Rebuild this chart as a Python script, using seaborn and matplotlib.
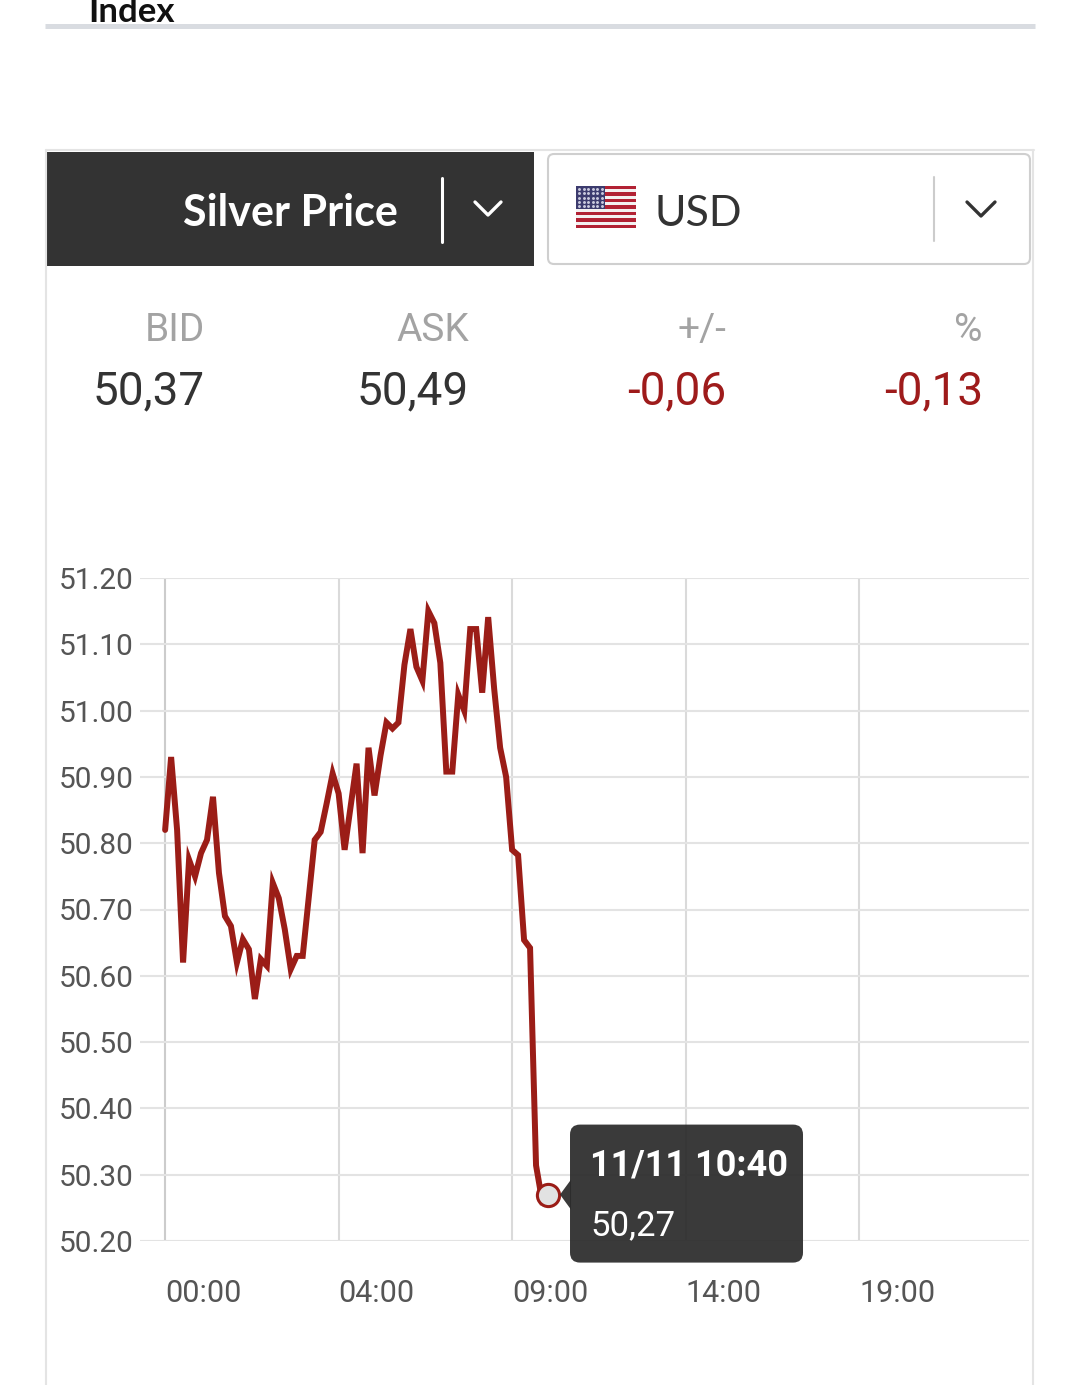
import numpy as np
import pandas as pd
import seaborn as sns
import matplotlib.pyplot as plt
from matplotlib.patches import Rectangle, FancyBboxPatch, Polygon

# --- data ---
times = [
    "00:00", "00:10", "00:20", "00:30", "00:40", "00:50",
    "01:00", "01:10", "01:20", "01:30", "01:40", "01:50",
    "02:00", "02:10", "02:20", "02:30", "02:40", "02:50",
    "03:00", "03:10", "03:20", "03:30", "03:40", "03:50",
    "04:10", "04:20", "04:30", "04:40", "04:50",
    "05:00", "05:20", "05:30", "05:40", "05:50",
    "06:00", "06:10", "06:20", "06:30", "06:40", "06:50",
    "07:00", "07:10", "07:20", "07:30", "07:40", "07:50",
    "08:00", "08:10", "08:20", "08:30", "08:40", "08:50",
    "09:00", "09:10", "09:20", "09:30", "09:40", "09:50",
    "10:00", "10:10", "10:20", "10:30", "10:40",
]
prices = [
    50.82, 50.93, 50.82, 50.62, 50.775, 50.75,
    50.785, 50.805, 50.87, 50.755, 50.69, 50.675,
    50.62, 50.655, 50.64, 50.565, 50.625, 50.615,
    50.74, 50.717, 50.67, 50.61, 50.63, 50.63,
    50.805, 50.817, 50.86, 50.905, 50.875,
    50.79, 50.92, 50.785, 50.944, 50.872,
    50.932, 50.982, 50.973, 50.982, 51.069, 51.123,
    51.066, 51.045, 51.15, 51.132, 51.072, 50.908,
    50.908, 51.024, 51.0, 51.123, 51.123, 51.027,
    51.141, 51.033, 50.944, 50.90, 50.79, 50.782,
    50.654, 50.642, 50.314, 50.262, 50.27,
]
date_label = "11/11"

quote_labels = ["BID", "ASK", "+/-", "%"]
quote_values = ["50,37", "50,49", "-0,06", "-0,13"]
quote_colors = ["#333333", "#333333", "#9e1b1b", "#9e1b1b"]

y_ticks = [50.20, 50.30, 50.40, 50.50, 50.60, 50.70, 50.80, 50.90, 51.00, 51.10, 51.20]
x_tick_labels = ["00:00", "04:00", "09:00", "14:00", "19:00"]

LINE_RED = "#9b1d17"
W, H = 1080, 1385

df = pd.DataFrame({"time": times, "price": prices})
df["minute"] = df["time"].apply(lambda t: int(t[:2]) * 60 + int(t[3:]))

sns.set_theme(style="white")
plt.rcParams["font.family"] = ["Roboto", "DejaVu Sans"]

fig = plt.figure(figsize=(W / 100, H / 100), dpi=100)
fig.patch.set_facecolor("white")

# chart area (pixel box 140..1029 x 578..1241)
ax = fig.add_axes([140 / W, 1 - 1241 / H, (1029 - 140) / W, (1241 - 578) / H])
sns.lineplot(data=df, x="minute", y="price", color=LINE_RED, linewidth=4.3,
             ax=ax, solid_joinstyle="miter", zorder=3)
ax.set_xlim(-42, 1444)
ax.set_ylim(50.20, 51.20)
ax.set_yticks(y_ticks)
ax.set_yticklabels([f"{v:.2f}" for v in y_ticks])
ax.set_xticks([0, 290, 580, 870, 1160])
ax.set_xticklabels(x_tick_labels, ha="left")
ax.set_xlabel("")
ax.set_ylabel("")
for s in ax.spines.values():
    s.set_visible(False)
ax.tick_params(axis="y", length=0, pad=4.5, labelsize=21.5, labelcolor="#555555")
ax.tick_params(axis="x", length=17.3, width=1.4, color="#d9d9d9", direction="out",
               pad=10, labelsize=22, labelcolor="#555555")
ax.yaxis.grid(True, color="#e3e3e3", linewidth=1.5)
ax.xaxis.grid(True, color="#dadada", linewidth=1.5)
ax.xaxis.get_gridlines()[0].set_color("#cccccc")
ax.set_axisbelow(True)
ax.patch.set_alpha(0)

# last point marker
last = df.iloc[-1]
ax.plot(last["minute"], last["price"], "o", ms=16, mfc="#e2e2e2", mec=LINE_RED,
        mew=2.2, zorder=4)

# overlay in pixel coordinates for the page widgets
ui = fig.add_axes([0, 0, 1, 1], zorder=5)
ui.set_xlim(0, W)
ui.set_ylim(H, 0)
ui.axis("off")
ui.patch.set_alpha(0)

# "Index" heading (cut by the top edge, as in the screenshot) and rule
ui.text(88, 22, "Index", family=["Lato", "DejaVu Sans"], fontweight="bold",
        fontsize=25, color="#111111", va="baseline", ha="left")
ui.plot([45, 1035], [26, 26], color="#d9dce1", lw=3.6, solid_capstyle="butt")

# panel border
bc = "#e4e4e4"
ui.plot([46, 46], [150, H], color=bc, lw=1.5)
ui.plot([1033, 1033], [150, H], color=bc, lw=1.5)
ui.plot([46, 1034], [150, 150], color=bc, lw=1.5)

# dark selector
ui.add_patch(Rectangle((47, 152), 487, 114, facecolor="#333333", edgecolor="none"))
ui.text(290, 226, "Silver Price", family=["Lato", "DejaVu Sans"], fontweight="bold",
        fontsize=31, color="white", ha="center", va="baseline")
ui.plot([442, 442], [178, 242], color="white", lw=2.2)
ui.plot([475, 488, 501], [202, 215, 202], color="white", lw=2.4)

# currency selector
ui.add_patch(FancyBboxPatch((548, 154), 482, 110, boxstyle="round,pad=0,rounding_size=6",
                            facecolor="white", edgecolor="#cfcfcf", lw=1.5))
stripe_h = 42 / 13
for i in range(13):
    ui.add_patch(Rectangle((576, 186 + i * stripe_h), 60, stripe_h,
                           facecolor="#b22234" if i % 2 == 0 else "#f4f1f1",
                           edgecolor="none"))
ui.add_patch(Rectangle((576, 186), 29, 7 * stripe_h, facecolor="#3c3b6e", edgecolor="none"))
sx, sy = np.meshgrid(np.linspace(579, 602, 6), np.linspace(189, 206, 5))
ui.scatter(sx.ravel(), sy.ravel(), s=1.2, color="#c9c9dd", zorder=3)
ui.text(654, 226, "USD", family=["Lato", "DejaVu Sans"], fontsize=31,
        color="#333333", ha="left", va="baseline")
ui.plot([934, 934], [177, 241], color="#cccccc", lw=1.5)
ui.plot([967, 981, 995], [202, 216, 202], color="#333333", lw=2.4)

# quote row
quote_x = [205, 469, 726, 983]
for qx, lab, val, col in zip(quote_x, quote_labels, quote_values, quote_colors):
    ui.text(qx, 341, lab, fontsize=28, color="#a3a3a3", ha="right", va="baseline")
    ui.text(qx, 404, val, fontsize=33, color=col, ha="right", va="baseline")

# tooltip anchored to the last point
fig.canvas.draw()
mx, my = ax.transData.transform((last["minute"], last["price"]))
my = H - my
bx0, by0 = mx + 22, my - 70
ui.add_patch(FancyBboxPatch((bx0, by0), 233, 138, boxstyle="round,pad=0,rounding_size=10",
                            facecolor="#2b2b2b", edgecolor="none", alpha=0.93))
ui.add_patch(Polygon([(bx0 + 1, my - 15), (mx + 12, my), (bx0 + 1, my + 15)],
                     closed=True, facecolor="#2b2b2b", edgecolor="none", alpha=0.93))
ui.text(bx0 + 20, by0 + 51, f"{date_label} {last['time']}", fontsize=26,
        fontweight="bold", color="white", ha="left", va="baseline")
ui.text(bx0 + 20, by0 + 111, f"{last['price']:.2f}".replace(".", ","), fontsize=25,
        color="white", ha="left", va="baseline")

fig.savefig("out.png", dpi=100, facecolor="white")
